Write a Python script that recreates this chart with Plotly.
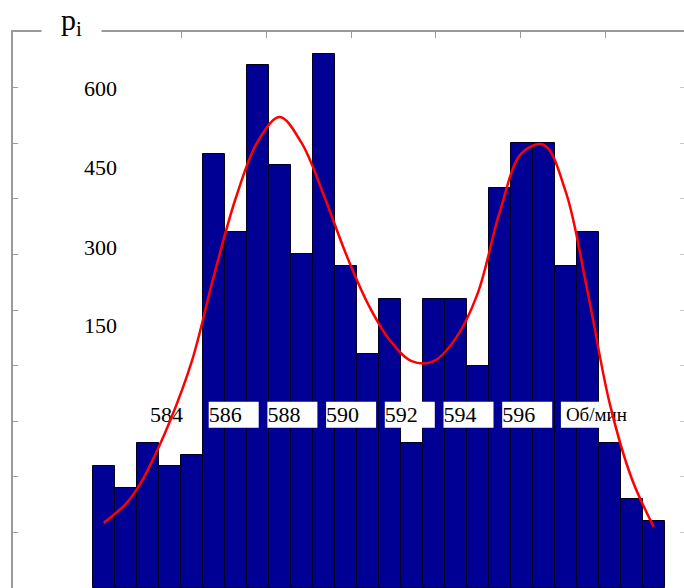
import plotly.graph_objects as go

# ---- data ----
bin_index = list(range(26))
counts = [220, 180, 260, 220, 240, 780, 640, 940, 760, 600, 960, 580, 420,
          520, 260, 520, 520, 400, 720, 800, 800, 580, 640, 260, 160, 120]

curve_x = [0, 0.5, 1, 1.5, 2, 3, 4, 5, 6, 7, 8, 9, 10, 11, 12, 13, 14, 15,
           16, 17, 18, 19, 20, 21, 22, 23, 24, 25]
curve_y = [117, 133, 151, 177, 212, 299, 407, 560, 701, 803, 847, 800, 707,
           602, 512, 446, 408, 408, 449, 530, 676, 782, 797, 713, 532, 332,
           197, 110]

y_labels = ["600", "450", "300", "150"]
x_labels = ["584", "586", "588", "590", "592", "594", "596", "Об/мин"]
y_title = "p<sub>i</sub>"

# ---- layout helpers (pixel -> data) ----
W, H = 684, 588
ML, MT = 13, 32


def xd(px):
    return (px - 103.7) / 22.0


def yd(py):
    return (588 - py) / 0.556


FONT = "Liberation Serif, Times New Roman, serif"
AXC = "#9a9a9a"

fig = go.Figure()

fig.add_trace(go.Bar(
    x=bin_index, y=counts, width=1.0,
    marker=dict(color="#000094", line=dict(color="#000020", width=1)),
    hoverinfo="skip", showlegend=False,
))

# white label boxes (drawn above bars, below curve)
bx, by = [], []
y0, y1 = yd(427.7), yd(401.7)
for k in range(1, len(x_labels)):
    left = 150 + 58.7 * k
    w = 76 if k == len(x_labels) - 1 else 50
    bx += [xd(left), xd(left + w), xd(left + w), xd(left), xd(left), None]
    by += [y0, y0, y1, y1, y0, None]
fig.add_trace(go.Scatter(
    x=bx, y=by, mode="lines", fill="toself", fillcolor="white",
    line=dict(width=0, color="white"), hoverinfo="skip", showlegend=False,
))

tx, ty = [], []
for k, lab in enumerate(x_labels):
    left = 150 + 58.7 * k + (5 if lab == "Об/мин" else 0)
    tx.append(xd(left))
    ty.append(yd(416))
fig.add_trace(go.Scatter(
    x=tx, y=ty, mode="text", text=x_labels, textposition="middle right",
    textfont=dict(family=FONT, size=[22] * (len(x_labels) - 1) + [19],
                  color="black"),
    hoverinfo="skip", showlegend=False,
))

fig.add_trace(go.Scatter(
    x=curve_x, y=curve_y, mode="lines",
    line=dict(color="#ff0000", width=2.5, shape="spline", smoothing=1.0),
    hoverinfo="skip", showlegend=False,
))

# invisible trace so that the right-hand tick axis is drawn
fig.add_trace(go.Scatter(
    x=[bin_index[0]], y=[counts[0]], yaxis="y2", mode="markers",
    marker=dict(opacity=0), hoverinfo="skip", showlegend=False,
))

annotations = []
for lab, py in zip(y_labels, [88, 167, 247, 325]):
    annotations.append(dict(
        x=(119 - ML) / (W - ML), y=(588 - py) / (H - MT),
        xref="paper", yref="paper", text=lab, showarrow=False,
        xanchor="right", yanchor="middle",
        font=dict(family=FONT, size=22, color="black"),
    ))
annotations.append(dict(
    x=(71.5 - ML) / (W - ML), y=(588 - 22) / (H - MT),
    xref="paper", yref="paper", text=y_title, showarrow=False,
    xanchor="center", yanchor="middle", bgcolor="white", width=57, height=30,
    font=dict(family=FONT, size=30, color="black"),
))

fig.update_layout(
    width=W, height=H,
    margin=dict(l=ML, r=0, t=MT, b=0, pad=0),
    paper_bgcolor="white", plot_bgcolor="white",
    bargap=0, showlegend=False,
    annotations=annotations,
    xaxis=dict(
        range=[xd(ML), xd(W)], side="top", showgrid=False, zeroline=False,
        showline=True, linecolor=AXC, linewidth=1.5,
        ticks="inside", ticklen=6, tickcolor=AXC, tickwidth=1,
        tickmode="array", tickvals=[xd(97 + 84.7 * k) for k in range(8)],
        showticklabels=False, fixedrange=True,
    ),
    yaxis=dict(
        range=[0, 1000], showgrid=False, zeroline=False,
        showline=True, linecolor=AXC, linewidth=2,
        ticks="inside", ticklen=5, tickcolor=AXC, tickwidth=1,
        tick0=0, dtick=100, showticklabels=False, fixedrange=True,
    ),
    yaxis2=dict(
        range=[0, 1000], overlaying="y", side="right", showgrid=False,
        zeroline=False, showline=False,
        ticks="inside", ticklen=4, tickcolor="#c8c8c8", tickwidth=1,
        tick0=0, dtick=100, showticklabels=False, fixedrange=True,
    ),
)

fig.write_html("out.html")
